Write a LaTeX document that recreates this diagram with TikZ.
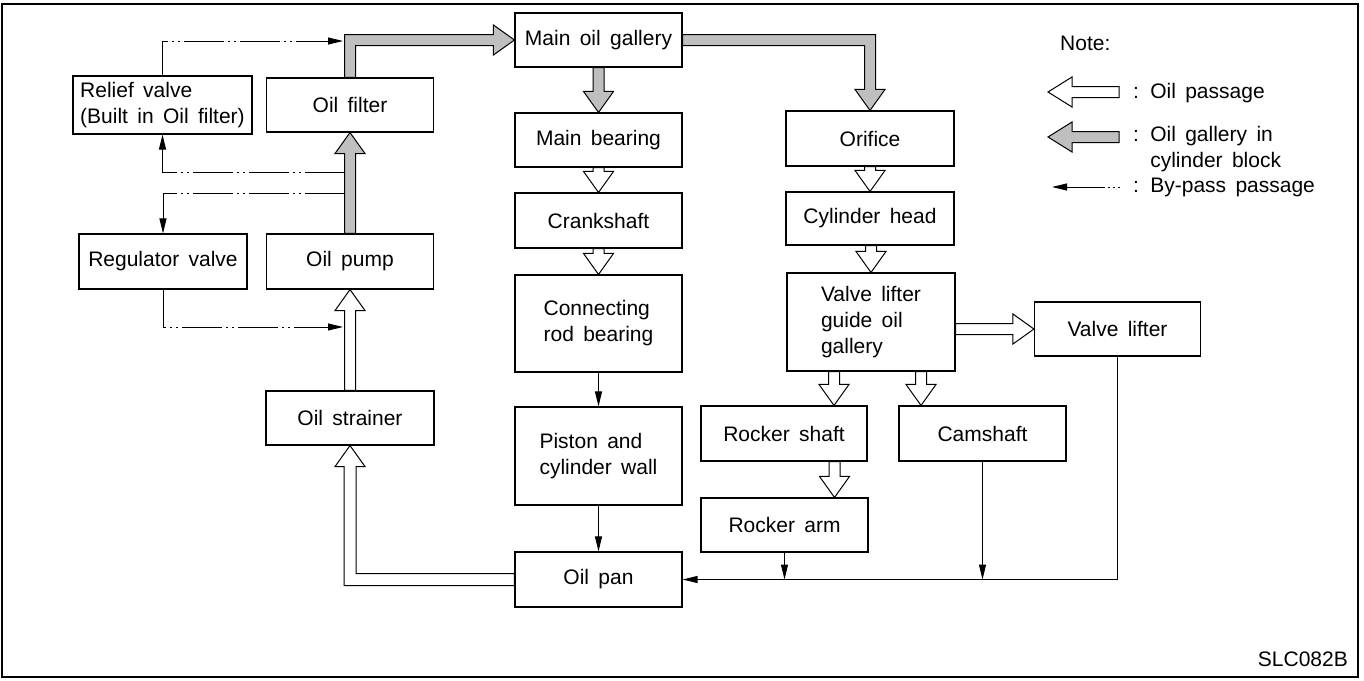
\documentclass[tikz,border=0pt]{standalone}
\usepackage{fontspec}
\setmainfont{Liberation Sans}[WordSpace=1.6]
\usetikzlibrary{calc,arrows.meta}

\tikzset{
  box/.style={draw, line width=1.1pt, fill=white, minimum width=167pt, minimum height=54pt, inner sep=3pt},
  passage/.style={draw, line width=1pt, fill=white},
  galleryarrow/.style={draw, line width=1pt, fill=gray!50},
  bypass/.style={line width=1pt, dash pattern=on 40pt off 4pt on 2pt off 4pt on 2pt off 4pt, -{Triangle[length=15pt,width=7pt]}},
  drain/.style={line width=1pt, -{Triangle[length=15pt,width=7pt]}},
  legtext/.style={anchor=west, inner sep=0pt, align=left}
}

% wide arrows: tail side taken from #2, tip at #3
\newcommand\fatsw{5.5pt}
\newcommand\fathw{15pt}
\newcommand\fathl{21pt}
\newcommand\fatdown[3][passage]{\path[#1] let \p1=#2, \p2=#3 in
  (\x2-\fatsw,\y1) -- (\x2-\fatsw,\y2+\fathl) -- (\x2-\fathw,\y2+\fathl) -- (\x2,\y2)
  -- (\x2+\fathw,\y2+\fathl) -- (\x2+\fatsw,\y2+\fathl) -- (\x2+\fatsw,\y1) -- cycle;}
\newcommand\fatup[3][passage]{\path[#1] let \p1=#2, \p2=#3 in
  (\x2-\fatsw,\y1) -- (\x2-\fatsw,\y2-\fathl) -- (\x2-\fathw,\y2-\fathl) -- (\x2,\y2)
  -- (\x2+\fathw,\y2-\fathl) -- (\x2+\fatsw,\y2-\fathl) -- (\x2+\fatsw,\y1) -- cycle;}
\newcommand\fatright[3][passage]{\path[#1] let \p1=#2, \p2=#3 in
  (\x1,\y2+\fatsw) -- (\x2-\fathl,\y2+\fatsw) -- (\x2-\fathl,\y2+\fathw) -- (\x2,\y2)
  -- (\x2-\fathl,\y2-\fathw) -- (\x2-\fathl,\y2-\fatsw) -- (\x1,\y2-\fatsw) -- cycle;}
\newcommand\fatleft[3][passage]{\path[#1] let \p1=#2, \p2=#3 in
  (\x1,\y2+\fatsw) -- (\x2+24pt,\y2+\fatsw) -- (\x2+24pt,\y2+\fathw) -- (\x2,\y2)
  -- (\x2+24pt,\y2-\fathw) -- (\x2+24pt,\y2-\fatsw) -- (\x1,\y2-\fatsw) -- cycle;}

\begin{document}
\begin{tikzpicture}[x=1pt, y=-1pt, font=\fontsize{21}{26}\selectfont]
\useasboundingbox (0,0) rectangle (1364,680);
\draw[line width=1.2pt] (2,4) rectangle (1358,677);

% pump side
\node[box, minimum width=179pt, minimum height=58pt, align=left] (relief) at (162.5,105) {Relief valve\\(Built in Oil filter)};
\node[box] (filter) at (350,105) {Oil filter};
\node[box, minimum width=168pt, minimum height=55pt] (regulator) at (163,261.5) {Regulator valve};
\node[box, minimum height=55pt] (pump) at (350,261.5) {Oil pump};
\node[box, minimum width=168pt] (strainer) at (350,418) {Oil strainer};

% crankshaft side
\node[box] (maingal) at (598.5,40) {Main oil gallery};
\node[box] (bearing) at (598.5,140) {Main bearing};
\node[box, minimum height=55pt] (crank) at (598.5,220.5) {Crankshaft};
\node[box, minimum height=97pt, align=left] (conrod) at (598.5,323.5) {Connecting\\rod bearing};
\node[box, minimum height=98pt, align=left] (piston) at (598.5,456) {Piston and\\cylinder wall};
\node[box, minimum height=55pt] (pan) at (598.5,579.5) {Oil pan};

% head side
\node[box, minimum width=168pt, minimum height=55pt] (orifice) at (870,138.5) {Orifice};
\node[box, minimum width=168pt, minimum height=53pt] (cylhead) at (870,218.5) {Cylinder head};
\node[box, minimum width=168pt, minimum height=98pt, align=left] (vlg) at (871,322) {Valve lifter\\guide oil\\gallery};
\node[box, minimum width=166pt] (vlifter) at (1117.5,329) {Valve lifter};
\node[box, minimum width=166pt, minimum height=55pt] (rshaft) at (784,433.5) {Rocker shaft};
\node[box, minimum height=54pt] (rarm) at (784.5,525) {Rocker arm};
\node[box, minimum height=55pt] (cam) at (982.5,433.5) {Camshaft};

% by-pass passages
\coordinate (relin) at (343,41);
\coordinate (relout) at (344.5,172);
\coordinate (regout) at (344.5,193);
\coordinate (regin) at (343,327);
\draw[bypass] (relief.north) |- (relin);
\draw[bypass] (relout) -| (relief.south);
\draw[bypass] (regout) -| (regulator.north);
\draw[bypass] (regulator.south) |- (regin);

% oil gallery in cylinder block
\fatup[galleryarrow]{(pump.north)}{(filter.south)}
\path[galleryarrow] let \p1=(filter.north), \p2=(maingal.west) in
  (\x1-\fatsw,\y1) -- (\x1-\fatsw,\y2+\fatsw) -- (\x2-\fathl,\y2+\fatsw) -- (\x2-\fathl,\y2+\fathw) -- (\x2,\y2)
  -- (\x2-\fathl,\y2-\fathw) -- (\x2-\fathl,\y2-\fatsw) -- (\x1+\fatsw,\y2-\fatsw) -- (\x1+\fatsw,\y1) -- cycle;
\fatdown[galleryarrow]{(maingal.south)}{(bearing.north)}
\path[galleryarrow] let \p1=(maingal.east), \p2=(orifice.north) in
  (\x1,\y1+\fatsw) -- (\x2+\fatsw,\y1+\fatsw) -- (\x2+\fatsw,\y2+\fathl) -- (\x2+\fathw,\y2+\fathl) -- (\x2,\y2)
  -- (\x2-\fathw,\y2+\fathl) -- (\x2-\fatsw,\y2+\fathl) -- (\x2-\fatsw,\y1-\fatsw) -- (\x1,\y1-\fatsw) -- cycle;

% oil passages
\fatup{(strainer.north)}{(pump.south)}
\path[passage] let \p1=(pan.west), \p2=(strainer.south) in
  (\x1,\y1+6pt) -- (\x2+6pt,\y1+6pt) -- (\x2+6pt,\y2-\fathl) -- (\x2+\fathw,\y2-\fathl) -- (\x2,\y2)
  -- (\x2-\fathw,\y2-\fathl) -- (\x2-6pt,\y2-\fathl) -- (\x2-6pt,\y1-6pt) -- (\x1,\y1-6pt) -- cycle;
\fatdown{(bearing.south)}{(crank.north)}
\fatdown{(crank.south)}{(conrod.north)}
\fatdown{(orifice.south)}{(cylhead.north)}
\fatdown{(cylhead.south)}{(vlg.north)}
\fatright{(vlg.east)}{(vlifter.west)}
\fatdown{(vlg.south)}{($(rshaft.north)+(50,0)$)}
\fatdown{(rshaft.south)}{($(rarm.north)+(50,0)$)}
\fatdown{(vlg.south)}{($(cam.north)+(-61.5,0)$)}

% return to oil pan
\draw[drain] (conrod.south) -- (piston.north);
\draw[drain] (piston.south) -- (pan.north);
\draw[drain] (vlifter.south) |- (pan.east);
\draw[drain] (cam.south) -- (cam.south |- pan.east);
\draw[drain] (rarm.south) -- (rarm.south |- pan.east);

% legend
\node[legtext] (note) at (1060,43) {Note:};
\coordinate (leg1) at (1048,92);
\coordinate (leg1t) at (1119,92);
\fatleft{(leg1t)}{(leg1)}
\node[legtext] (leg1txt) at (1133,93) {: Oil passage};
\coordinate (leg2) at (1048,137);
\coordinate (leg2t) at (1119,137);
\fatleft[galleryarrow]{(leg2t)}{(leg2)}
\node[legtext] (leg2txt) at (1133,149.5) {: Oil gallery in\\\hphantom{: }cylinder block};
\coordinate (leg3) at (1052,187);
\coordinate (leg3t) at (1120,187);
\draw[line width=1pt, dash pattern=on 2pt off 3pt on 2pt off 3pt on 2pt off 3pt on 60pt, -{Triangle[length=15pt,width=7pt]}] (leg3t) -- (leg3);
\node[legtext] (leg3txt) at (1133,187) {: By-pass passage};

\node[anchor=east, inner sep=0pt] (code) at (1348,659) {SLC082B};
\end{tikzpicture}
\end{document}
